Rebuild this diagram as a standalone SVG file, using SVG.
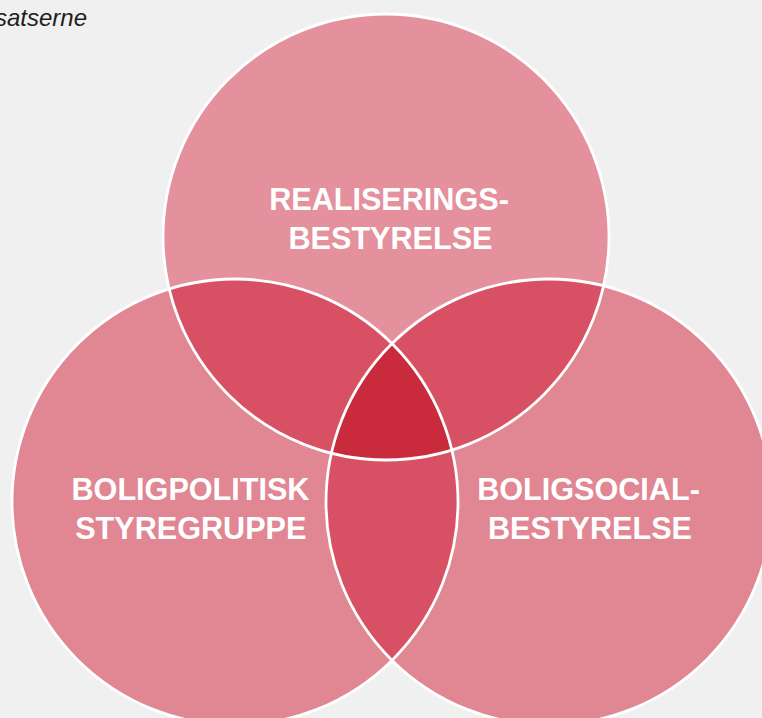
<svg xmlns="http://www.w3.org/2000/svg" width="762" height="718" viewBox="0 0 762 718">
  <style>
    .bg { fill: #f0f0f0; }
    .top { fill: #e4909d; }
    .side { fill: #e18693; }
    .pair { fill: #d75064; }
    .triple { fill: #c92b3c; }
    .outline { fill: none; stroke: #ffffff; stroke-width: 2.8; }
    .label { font-family: "Liberation Sans", Arial, sans-serif; font-weight: bold; font-size: 30.6px; fill: #ffffff; text-anchor: middle; }
    .caption { font-family: "Liberation Sans", Arial, sans-serif; font-style: italic; font-size: 24px; fill: #1e1e1e; text-anchor: end; }
  </style>
  <defs>
    <circle id="cT" cx="386" cy="237" r="223"/>
    <circle id="cL" cx="235" cy="502" r="223"/>
    <circle id="cR" cx="549" cy="502" r="223"/>
    <clipPath id="clipT"><use href="#cT"/></clipPath>
    <clipPath id="clipL"><use href="#cL"/></clipPath>
  </defs>
  <rect class="bg" x="0" y="0" width="762" height="718"/>
  <text class="caption" x="87" y="26">satserne</text>

  <g id="node-realiseringsbestyrelse">
    <use href="#cT" class="top"/>
  </g>
  <g id="node-boligpolitisk-styregruppe">
    <use href="#cL" class="side"/>
  </g>
  <g id="node-boligsocialbestyrelse">
    <use href="#cR" class="side"/>
  </g>

  <g id="overlaps">
    <use href="#cL" class="pair" clip-path="url(#clipT)"/>
    <use href="#cR" class="pair" clip-path="url(#clipT)"/>
    <use href="#cR" class="pair" clip-path="url(#clipL)"/>
    <g clip-path="url(#clipT)">
      <use href="#cR" class="triple" clip-path="url(#clipL)"/>
    </g>
  </g>

  <g id="outlines">
    <use href="#cT" class="outline"/>
    <use href="#cL" class="outline"/>
    <use href="#cR" class="outline"/>
  </g>

  <g id="labels">
    <text class="label" x="389" y="209.5">REALISERINGS-</text>
    <text class="label" x="390.5" y="248.5">BESTYRELSE</text>
    <text class="label" x="190.5" y="499.5">BOLIGPOLITISK</text>
    <text class="label" x="190.8" y="538.5">STYREGRUPPE</text>
    <text class="label" x="588.5" y="499.5">BOLIGSOCIAL-</text>
    <text class="label" x="590" y="538.5">BESTYRELSE</text>
  </g>
</svg>
